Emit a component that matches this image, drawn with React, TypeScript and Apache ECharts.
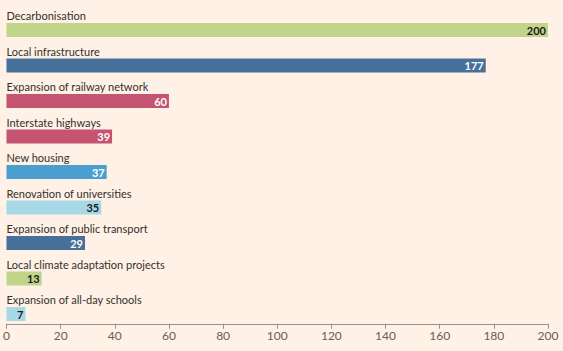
import React, { useEffect, useRef } from "react";
import * as echarts from "echarts";

const categories = [
  "Decarbonisation",
  "Local infrastructure",
  "Expansion of railway network",
  "Interstate highways",
  "New housing",
  "Renovation of universities",
  "Expansion of public transport",
  "Local climate adaptation projects",
  "Expansion of all-day schools",
];
const values = [200, 177, 60, 39, 37, 35, 29, 13, 7];
const barColors = ["#c0d48a", "#46709a", "#c45472", "#c45472", "#4a9fd0", "#a7d8e8", "#46709a", "#c0d48a", "#a7d8e8"];
const labelColors = ["#1a1a1a", "#ffffff", "#ffffff", "#ffffff", "#ffffff", "#1a1a1a", "#ffffff", "#1a1a1a", "#1a1a1a"];
const xTicks = [0, 200];

export default function App() {
  const ref = useRef<HTMLDivElement>(null);
  useEffect(() => {
    if (!ref.current) return;
    const chart = echarts.init(ref.current, null, { renderer: "svg" });
    const font = "Lato, 'Open Sans', sans-serif";
    chart.setOption({
      animation: false,
      backgroundColor: "#fff1e5",
      grid: { left: 6, right: 15, top: 12.25, bottom: 19.25, containLabel: false },
      xAxis: {
        type: "value",
        min: xTicks[0],
        max: xTicks[1],
        interval: 20,
        offset: -8,
        splitLine: { show: false },
        axisLine: { show: true, lineStyle: { color: "#9a918a", width: 1 } },
        axisTick: { show: true, length: 5, lineStyle: { color: "#9a918a" } },
        axisLabel: { color: "#66605c", fontSize: 12, fontFamily: font, margin: 6 },
      },
      yAxis: {
        type: "category",
        data: categories,
        inverse: true,
        axisLine: { show: false },
        axisTick: { show: false },
        axisLabel: { show: false },
      },
      series: [
        {
          type: "bar",
          barWidth: 14,
          data: values.map((v, i) => ({
            value: v,
            itemStyle: { color: barColors[i] },
            label: { color: labelColors[i] },
          })),
          label: {
            show: true,
            position: "insideRight",
            distance: 2,
            fontSize: 11,
            fontWeight: "bold",
            fontFamily: font,
          },
          z: 2,
        },
        {
          type: "bar",
          barWidth: 14,
          barGap: "-100%",
          data: values.map((v) => ({ value: v })),
          itemStyle: { color: "rgba(0,0,0,0)" },
          label: {
            show: true,
            position: [0, -2],
            align: "left",
            verticalAlign: "bottom",
            formatter: (p: any) => p.name,
            color: "#33302e",
            fontSize: 11,
            fontFamily: font,
          },
          silent: true,
          z: 3,
        },
      ],
    });
    return () => chart.dispose();
  }, []);
  return <div ref={ref} style={{ width: 563, height: 351, position: "absolute", left: 0, top: 0 }} />;
}
